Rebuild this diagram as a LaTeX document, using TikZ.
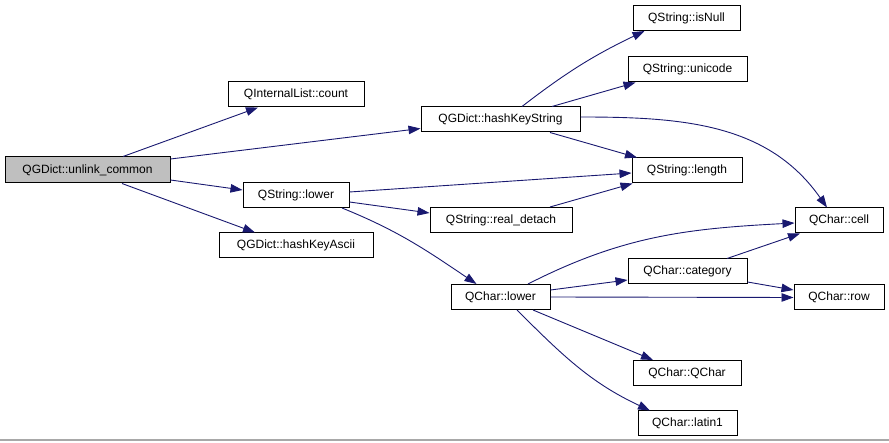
\documentclass[tikz,border=0pt]{standalone}
\usepackage{fontspec}
\setmainfont{Liberation Sans}
\usetikzlibrary{arrows.meta}
\definecolor{edgeblue}{HTML}{191970}
\definecolor{rootgray}{HTML}{BFBFBF}
\definecolor{rulegray}{HTML}{A8A8A8}
\begin{document}
\begin{tikzpicture}[x=1pt,y=1pt,
  fn/.style={draw=black, line width=1pt, fill=white, inner sep=0pt,
             minimum height=25pt, font=\fontsize{12}{14}\selectfont},
  root/.style={fn, fill=rootgray, minimum height=26pt},
  call/.style={draw=edgeblue, line width=0.9pt,
               -{Triangle[length=12pt,width=8.5pt]}}]
\useasboundingbox (0,0) rectangle (889,-443);

% call graph nodes
\node[root, minimum width=165pt] (uc)  at (87.5,-170)  {QGDict::unlink\_common};
\node[fn, minimum width=136pt]   (ilc) at (296,-94.5)  {QInternalList::count};
\node[fn, minimum width=106pt]   (sl)  at (296,-195)   {QString::lower};
\node[fn, minimum width=154pt]   (hka) at (296,-245.5) {QGDict::hashKeyAscii};
\node[fn, minimum width=159pt]   (hks) at (500.5,-119.5) {QGDict::hashKeyString};
\node[fn, minimum width=142pt]   (rd)  at (501,-220)   {QString::real\_detach};
\node[fn, minimum width=99pt]    (qcl) at (500.5,-297) {QChar::lower};
\node[fn, minimum width=107pt]   (isn) at (686.5,-18)  {QString::isNull};
\node[fn, minimum width=119pt]   (uni) at (687.5,-69.5) {QString::unicode};
\node[fn, minimum width=110pt]   (len) at (687,-170.5) {QString::length};
\node[fn, minimum width=119pt]   (cat) at (687.5,-271.5) {QChar::category};
\node[fn, minimum width=108pt]   (qch) at (687,-373)   {QChar::QChar};
\node[fn, minimum width=99pt]    (lat) at (687.5,-423.5) {QChar::latin1};
\node[fn, minimum width=88pt]    (cell) at (839,-220.5) {QChar::cell};
\node[fn, minimum width=90pt]    (row) at (839,-297.5) {QChar::row};

% calls
\draw[call] ([xshift=35.5pt]uc.north) -- ([xshift=-38pt]ilc.south);
\draw[call] ([yshift=11pt]uc.east) -- ([yshift=-9pt]hks.west);
\draw[call] ([yshift=-10pt]uc.east) -- ([yshift=5pt]sl.west);
\draw[call] ([xshift=34.5pt]uc.south) -- ([xshift=-41pt]hka.north);
\draw[call] ([xshift=21.5pt]hks.north) to[bend left=6] ([xshift=-42pt]isn.south);
\draw[call] ([xshift=51.5pt]hks.north) -- ([xshift=-52pt]uni.south);
\draw[call] ([xshift=49.5pt]hks.south) -- ([xshift=-50pt]len.north);
\draw[call] ([yshift=2.5pt]hks.east) to[out=0,in=125] ([xshift=-12pt]cell.north);
\draw[call] ([yshift=3pt]sl.east) -- ([yshift=-2.5pt]len.west);
\draw[call] ([yshift=-7pt]sl.east) -- ([yshift=7pt]rd.west);
\draw[call] ([xshift=46pt]sl.south) to[out=-22,in=146] ([xshift=-24pt]qcl.north);
\draw[call] ([xshift=49pt]rd.north) -- ([xshift=1pt]len.south west);
\draw[call] ([xshift=27.5pt]qcl.north) to[out=27,in=-177] ([yshift=-2.5pt]cell.west);
\draw[call] ([yshift=7pt]qcl.east) -- ([yshift=-8.5pt]cat.west);
\draw[call] (qcl.east) -- (row.west);
\draw[call] ([xshift=39.5pt]cat.north) -- ([xshift=-39pt]cell.south);
\draw[call] ([yshift=-10.5pt]cat.east) -- ([yshift=7.5pt]row.west);
\draw[call] ([xshift=32.5pt]qcl.south) -- ([xshift=-34pt]qch.north);
\draw[call] ([xshift=16.5pt]qcl.south) to[out=-45,in=155] ([xshift=-37.5pt]lat.north);

% bottom rule
\draw[rulegray, line width=1.5pt] (0,-440) -- (889,-440);
\end{tikzpicture}
\end{document}
